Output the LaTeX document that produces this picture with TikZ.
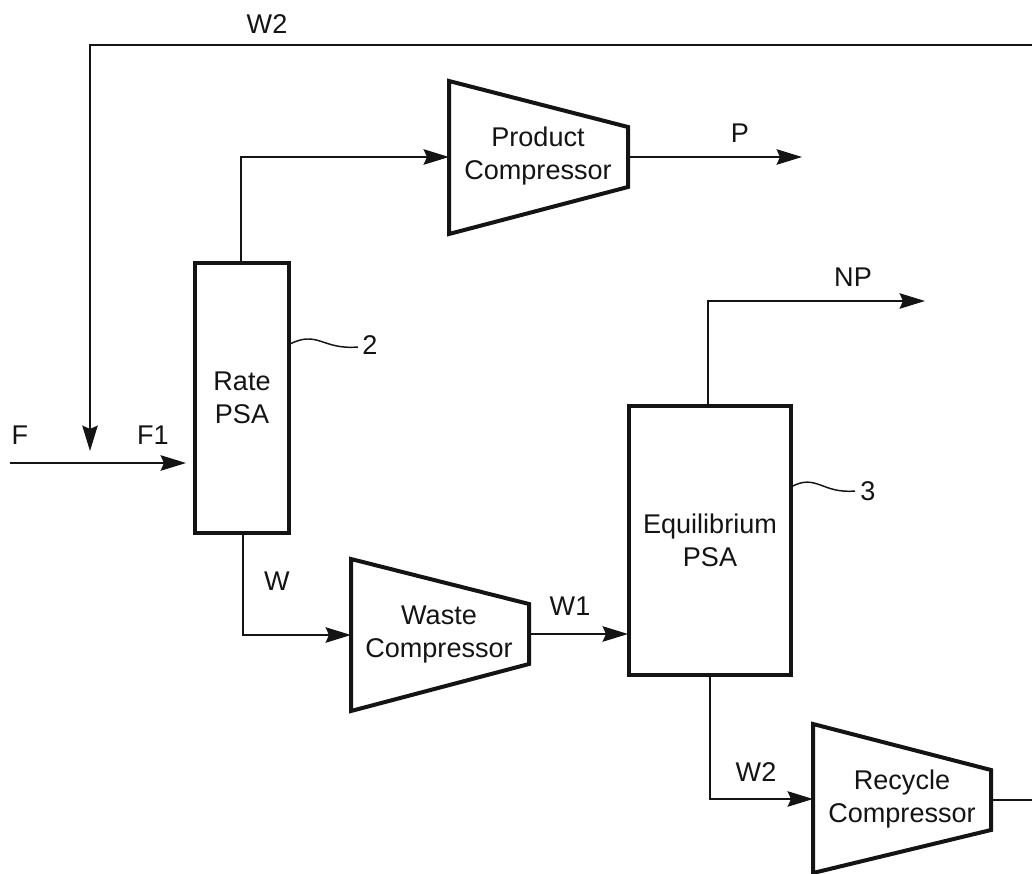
\documentclass[tikz,border=0pt]{standalone}
\usepackage{fontspec}
\setmainfont{Liberation Sans}
\usetikzlibrary{arrows.meta}
\definecolor{ink}{gray}{0.08}
\tikzset{
  flow/.style={draw=ink,line width=1.8pt,-{Stealth[length=19pt,width=11.5pt,inset=2.5pt]}},
  plainflow/.style={draw=ink,line width=1.8pt},
  vessel/.style={draw=ink,line width=3pt,outer sep=0pt,inner sep=0pt,anchor=center,align=center,text=ink,font=\fontsize{20.3}{24.75}\selectfont},
  comp/.style={draw=ink,line width=3pt,line join=miter},
  lab/.style={text=ink,inner sep=0pt,align=center,font=\fontsize{20.3}{24.75}\selectfont},
  leader/.style={draw=ink,line width=1.1pt},
}
\begin{document}
\begin{tikzpicture}[x=0.75pt,y=-0.75pt]
\useasboundingbox (0,0) rectangle (1032,874);
% vessels
\node[vessel,minimum width=70.5pt,minimum height=202.5pt] (rate) at (242,398) {Rate\\PSA};
\node[vessel,minimum width=121.5pt,minimum height=201.75pt] (equil) at (710,540.5) {Equilibrium\\PSA};
% compressors
\coordinate (pcA) at (449,81); \coordinate (pcB) at (628,127); \coordinate (pcC) at (628,187); \coordinate (pcD) at (449,234);
\coordinate (pcin) at (449,157); \coordinate (pcout) at (628,157);
\draw[comp] (pcA) -- (pcB) -- (pcC) -- (pcD) -- cycle;
\node[lab] (pclabel) at (538,156) {Product\\Compressor};
\coordinate (wcA) at (351,559); \coordinate (wcB) at (529,604); \coordinate (wcC) at (529,664); \coordinate (wcD) at (351,711);
\coordinate (wcin) at (351,635); \coordinate (wcout) at (529,634);
\draw[comp] (wcA) -- (wcB) -- (wcC) -- (wcD) -- cycle;
\node[lab] (wclabel) at (439,634) {Waste\\Compressor};
\coordinate (rcA) at (813,724); \coordinate (rcB) at (991,770); \coordinate (rcC) at (991,830); \coordinate (rcD) at (813,873);
\coordinate (rcin) at (813,799); \coordinate (rcout) at (991,800);
\draw[comp] (rcA) -- (rcB) -- (rcC) -- (rcD) -- cycle;
\node[lab] (rclabel) at (902,799) {Recycle\\Compressor};
% free ends
\coordinate (fstart) at (10,463);
\coordinate (rright) at (1032,800);
\coordinate (topright) at (1032,45);
\coordinate (topleft) at (90,45);
\coordinate (mix) at (90,451);
\coordinate (pend) at (802,157);
\coordinate (npend) at (925,301);
\coordinate (ratein) at (186,463);
\coordinate (eqin) at (628,634);
% connectors
\draw[flow] (fstart) -- (ratein);
\draw[flow] (topright) -- (topleft) -- (mix);
\draw[flow] ([xshift=-0.75pt]rate.north) |- (pcin);
\draw[flow] (pcout) -- (pend);
\draw[flow] ([xshift=-1.5pt]equil.north) |- (npend);
\draw[flow] ([xshift=0.75pt]rate.south) |- (wcin);
\draw[flow] (wcout) -- (eqin);
\draw[flow] (equil.south) |- (rcin);
\draw[plainflow] (rcout) -- (rright);
% leaders
\coordinate (l2a) at (290,344); \coordinate (l2b) at (358,347);
\draw[leader] (l2a) .. controls (318,330) and (322,350) .. (l2b);
\coordinate (l3a) at (791,487); \coordinate (l3b) at (855,491);
\draw[leader] (l3a) .. controls (816,473) and (822,494) .. (l3b);
% labels
\node[lab] (n2) at (370,345) {2};
\node[lab] (n3) at (868,491) {3};
\node[lab] (lw2top) at (267,24) {W2};
\node[lab] (lp) at (740,133) {P};
\node[lab] (lnp) at (853,277) {NP};
\node[lab] (lf) at (20,435) {F};
\node[lab] (lf1) at (153,435) {F1};
\node[lab] (lw) at (277,581) {W};
\node[lab] (lw1) at (570,606) {W1};
\node[lab] (lw2) at (756,772) {W2};
\end{tikzpicture}
\end{document}
